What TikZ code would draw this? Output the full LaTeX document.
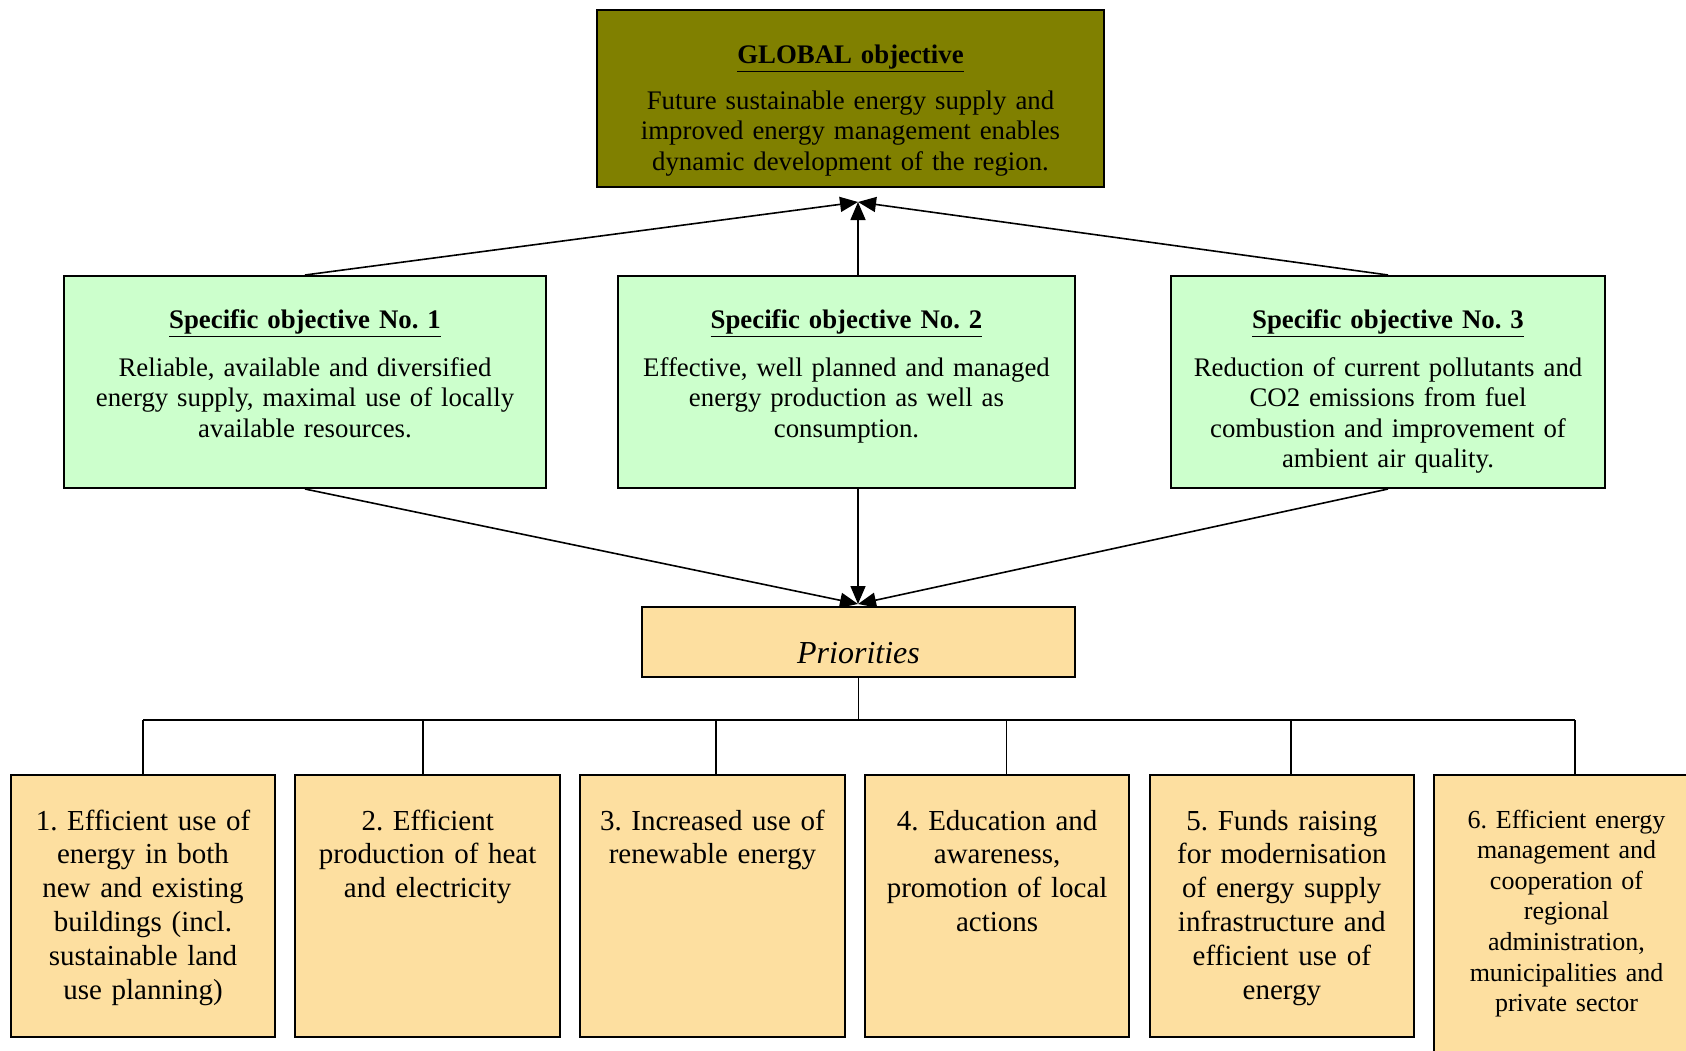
\documentclass[tikz,border=0pt]{standalone}
\usepackage{fontspec}
\setmainfont{Liberation Serif}
\usepackage{xcolor}
\usetikzlibrary{positioning,arrows.meta}
\definecolor{globalcol}{RGB}{128,128,0}
\definecolor{specificcol}{RGB}{204,255,204}
\definecolor{prioritycol}{RGB}{253,223,160}
\frenchspacing

\begin{document}
\begin{tikzpicture}[x=0.5pt, y=-0.5pt,
            box/.style = {draw, line width=1pt, inner sep=0pt, align=center},
            gbox/.style = {box, fill=globalcol, text width=253.5pt, text height=26.5pt, text depth=62pt,
              font=\fontsize{13.4}{15.25}\selectfont},
            sbox/.style = {box, fill=specificcol, text height=26pt, text depth=80pt,
              font=\fontsize{13.4}{15.25}\selectfont},
            pbox/.style = {box, fill=prioritycol, text width=132.25pt, text height=27.5pt, text depth=103.5pt,
              font=\fontsize{14.5}{16.9}\selectfont},
            link/.style = {line width=0.8pt, -{Triangle[length=9pt,width=7.5pt]}},
            bus/.style = {line width=0.9pt}]
            \useasboundingbox (0,0) rectangle (1686,1050);
            \node (glob)[gbox] at (850.5,98.5) {\underline{\textbf{GLOBAL objective}}\\[7.75pt]
                Future sustainable energy supply and\\ improved energy management enables\\ dynamic development of the region.};
            \node (so1)[sbox, text width=241pt] at (305,382) {\underline{\textbf{Specific objective No. 1}}\\[8.75pt]
                Reliable, available and diversified\\ energy supply, maximal use of locally\\ available resources.};
            \node (so2)[sbox, text width=228.5pt] at (846.5,382) {\underline{\textbf{Specific objective No. 2}}\\[8.75pt]
                Effective, well planned and managed\\ energy production as well as\\ consumption.};
            \node (so3)[sbox, text width=217pt] at (1388,382) {\underline{\textbf{Specific objective No. 3}}\\[8.75pt]
                Reduction of current pollutants and\\ CO2 emissions from fuel\\ combustion and improvement of\\ ambient air quality.};
            \node (pr)[box, fill=prioritycol, text width=216.5pt, text height=28pt, text depth=7pt,
                font=\fontsize{16}{18}\selectfont\itshape] at (858.5,642) {Priorities};
            \node (p1)[pbox] at (143,906) {1. Efficient use of\\ energy in both\\ new and existing\\ buildings (incl.\\ sustainable land\\ use planning)};
            \node (p2)[pbox, right=9.1pt of p1] {2. Efficient\\ production of heat\\ and electricity};
            \node (p3)[pbox, right=9.1pt of p2] {3. Increased use of\\ renewable energy};
            \node (p4)[pbox, right=9.1pt of p3] {4. Education and\\ awareness,\\ promotion of local\\ actions};
            \node (p5)[pbox, right=9.1pt of p4] {5. Funds raising\\ for modernisation\\ of energy supply\\ infrastructure and\\ efficient use of\\ energy};
            \node (p6)[pbox, right=9.1pt of p5.north east, anchor=north west, text height=26.5pt, text depth=125pt,
                font=\fontsize{13}{15.3}\selectfont] {6. Efficient energy\\ management and\\ cooperation of\\ regional\\ administration,\\ municipalities and\\ private sector};
            \coordinate (gtip) at (858,202);
            \coordinate (ptip) at (858,604);
            \draw[link] (so1.north) -- (gtip);
            \draw[link] (so2.north -| gtip) -- (gtip);
            \draw[link] (so3.north) -- (gtip);
            \draw[link] (so1.south) -- (ptip);
            \draw[link] (so2.south -| ptip) -- (ptip);
            \draw[link] (so3.south) -- (ptip);
            \foreach \n/\x in {1/143, 2/422.6, 3/716, 4/1006.5, 5/1291, 6/1575}
                \coordinate (d\n) at (\x,720);
            \draw[bus] (pr.south) -- (pr.south |- d1);
            \draw[bus] (d1) -- (d6);
            \foreach \n in {1,...,6}
                \draw[bus] (d\n) -- (d\n |- p\n.north);
            \end{tikzpicture}
\end{document}
